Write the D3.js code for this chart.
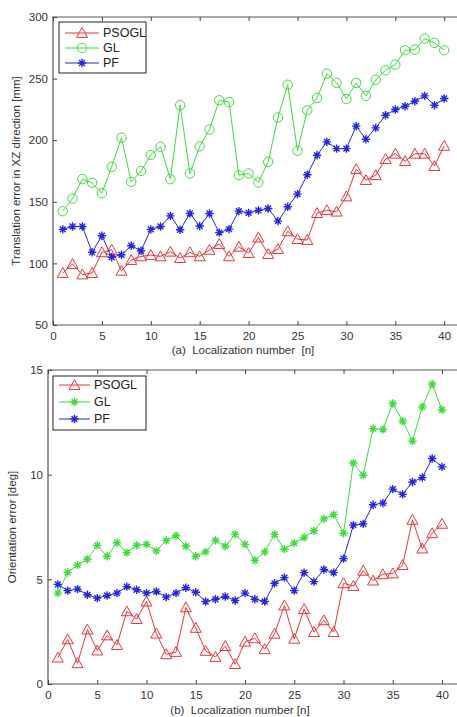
<!DOCTYPE html>
<html>
<head>
<meta charset="utf-8">
<script src="https://cdn.jsdelivr.net/npm/d3@7"></script>
<style>
  body { margin: 0; background: #fff; }
  svg { display: block; font-family: "Liberation Sans", Arial, sans-serif; }
  .tick text { fill: #333; font-size: 11.5px; }
  .lbl { fill: #333; font-size: 11.5px; }
</style>
</head>
<body>
<svg id="svg" width="457" height="717"></svg>
<script>
// localization index 1..40
const nums = d3.range(1, 41);

// (a) translation error [mm]
const transPSOGL = [92.2, 99.5, 91, 92.2, 109, 111, 94, 102.7, 105.7, 106.8,
  105.7, 109.5, 104.3, 109, 105.7, 111, 115.7, 105.7, 113.5, 108.4,
  121, 107.6, 111.6, 126, 119.7, 119, 140.8, 143.2, 142, 154.3,
  176.5, 167.6, 171.6, 184.6, 189, 183, 189, 189, 179, 195.4];
const transGL = [142.4, 152.7, 168.4, 165.4, 157, 178.4, 202, 166.2, 175, 188,
  194.6, 168.4, 228.4, 173, 195, 208.6, 232.4, 231, 171.6, 173,
  165.7, 182.4, 218.4, 245, 191.4, 224.3, 234.3, 254, 246.5, 233.5,
  246.5, 236, 249, 256.8, 261.4, 273, 273.5, 282.4, 279, 273];
const transPF = [127.6, 130, 130, 109, 122.4, 105, 107, 114.3, 110.3, 127.6,
  130, 138.6, 127.3, 140.5, 130.3, 140.5, 125, 127.8, 142.4, 141,
  143, 144.6, 134.3, 146, 156.2, 172, 187.8, 198.6, 193.2, 193.2,
  211.4, 200.8, 210, 220.3, 224.9, 227.6, 231.6, 236, 228.4, 233.8];

// (b) orientation error [deg]
const oriPSOGL = [1.26, 2.13, 0.99, 2.6, 1.6, 2.32, 1.86, 3.47, 3.1, 3.94,
  2.41, 1.42, 1.53, 3.66, 2.68, 1.58, 1.29, 1.81, 0.95, 2.02,
  2.18, 1.66, 2.4, 3.75, 2.16, 3.58, 2.48, 3.04, 2.48, 4.81,
  4.68, 5.41, 4.94, 5.24, 5.28, 5.68, 7.84, 6.47, 7.2, 7.65];
const oriGL = [4.34, 5.33, 5.68, 5.96, 6.62, 6.1, 6.75, 6.28, 6.62, 6.67,
  6.36, 6.86, 7.08, 6.58, 6.1, 6.31, 6.86, 6.58, 7.15, 6.67,
  5.91, 6.31, 7.15, 6.44, 6.73, 7.0, 7.32, 7.89, 8.1, 7.2,
  10.56, 9.97, 12.2, 12.16, 13.4, 12.56, 11.6, 13.24, 14.33, 13.1];
const oriPF = [4.76, 4.46, 4.53, 4.26, 4.1, 4.23, 4.34, 4.65, 4.5, 4.34,
  4.42, 4.15, 4.34, 4.6, 4.38, 3.94, 4.05, 4.18, 3.99, 4.34,
  4.05, 3.94, 4.81, 5.08, 4.46, 5.32, 4.89, 5.47, 5.32, 5.99,
  7.59, 7.65, 8.56, 8.64, 9.31, 9.06, 9.65, 9.86, 10.77, 10.37];

const xTicks = [0, 5, 10, 15, 20, 25, 30, 35, 40];
const transTicks = [50, 100, 150, 200, 250, 300];
const oriTicks = [0, 5, 10, 15];

const RED = "#e8353a", GREEN = "#3edb3e", BLUE = "#2626dc";

const svg = d3.select("#svg");

// marker shapes
function drawMarker(g, type, color, x, y, s) {
  if (type === "tri") {
    g.append("path")
      .attr("d", `M${x},${y - s}L${x + s},${y + s * 0.8}L${x - s},${y + s * 0.8}Z`)
      .attr("fill", "none").attr("stroke", color).attr("stroke-width", 1);
  } else if (type === "circ") {
    g.append("circle").attr("cx", x).attr("cy", y).attr("r", s)
      .attr("fill", "none").attr("stroke", color).attr("stroke-width", 1);
  } else {
    const d = s * 0.7;
    g.append("path")
      .attr("d", `M${x - s},${y}L${x + s},${y}M${x},${y - s}L${x},${y + s}` +
                 `M${x - d},${y - d}L${x + d},${y + d}M${x - d},${y + d}L${x + d},${y - d}`)
      .attr("stroke", color).attr("stroke-width", 1.4);
  }
}

function panel(cfg) {
  const x = d3.scaleLinear().domain([0, 42]).range([cfg.left, cfg.left + 42 * cfg.unit]);
  const y = d3.scaleLinear().domain(cfg.ydom).range([cfg.bottom, cfg.top]);
  const g = svg.append("g");

  // frame (left, top, bottom; right side falls outside the picture)
  g.append("path")
    .attr("d", `M${x(42)},${cfg.top}H${cfg.left}V${cfg.bottom}H${x(42)}`)
    .attr("fill", "none").attr("stroke", "#555").attr("stroke-width", 1.2);

  const xa = g.append("g").attr("transform", `translate(0,${cfg.bottom})`)
    .call(d3.axisBottom(x).tickValues(xTicks).tickSize(-4).tickPadding(7).tickFormat(d3.format("d")));
  const xt = g.append("g").attr("transform", `translate(0,${cfg.top})`)
    .call(d3.axisTop(x).tickValues(xTicks).tickSize(-4).tickFormat(""));
  const ya = g.append("g").attr("transform", `translate(${cfg.left},0)`)
    .call(d3.axisLeft(y).tickValues(cfg.yticks).tickSize(-4).tickPadding(5));
  [xa, xt, ya].forEach(a => {
    a.select(".domain").remove();
    a.selectAll(".tick line").attr("stroke", "#444");
  });

  const line = d3.line().x((d, i) => x(nums[i])).y(d => y(d));
  cfg.series.forEach(s => {
    g.append("path").datum(s.values).attr("d", line)
      .attr("fill", "none").attr("stroke", s.color).attr("stroke-width", 1);
    const mg = g.append("g");
    s.values.forEach((v, i) => drawMarker(mg, s.marker, s.color, x(nums[i]), y(v), s.size));
  });

  // legend
  const L = cfg.legend;
  const lg = g.append("g");
  lg.append("rect").attr("x", L.x).attr("y", L.y).attr("width", L.w).attr("height", L.h)
    .attr("fill", "#fff").attr("stroke", "#222").attr("stroke-width", 1);
  cfg.series.forEach((s, i) => {
    const yy = L.y + L.first + i * L.step;
    lg.append("line").attr("x1", L.x + 6).attr("x2", L.x + 6 + L.len)
      .attr("y1", yy).attr("y2", yy).attr("stroke", s.color).attr("stroke-width", 1);
    drawMarker(lg, s.marker, s.color, L.x + 6 + L.len / 2, yy, s.size);
    lg.append("text").attr("x", L.x + 10 + L.len).attr("y", yy + 4)
      .attr("font-size", 12.5).attr("fill", "#222").text(s.name);
  });

  g.append("text").attr("class", "lbl")
    .attr("transform", `translate(${cfg.ylabX},${(cfg.top + cfg.bottom) / 2}) rotate(-90)`)
    .attr("text-anchor", "middle").text(cfg.ylabel);
  g.append("text").attr("class", "lbl").attr("x", cfg.xlabX).attr("y", cfg.xlabY)
    .attr("font-size", 12)
    .attr("text-anchor", "middle").attr("xml:space", "preserve").text(cfg.xlabel);
}

panel({
  left: 53, unit: 9.78, top: 17, bottom: 325, ydom: [50, 300], yticks: transTicks,
  series: [
    { name: "PSOGL", values: transPSOGL, color: RED, marker: "tri", size: 5.5 },
    { name: "GL", values: transGL, color: GREEN, marker: "circ", size: 4.7 },
    { name: "PF", values: transPF, color: BLUE, marker: "star", size: 4.2 }
  ],
  legend: { x: 59, y: 22, w: 87, h: 51, first: 11, step: 15, len: 34 },
  ylabel: "Translation error in XZ direction [mm]", ylabX: 20,
  xlabel: "(a)  Localization number  [n]", xlabX: 243, xlabY: 354
});

panel({
  left: 48, unit: 9.85, top: 370, bottom: 684, ydom: [0, 15], yticks: oriTicks,
  series: [
    { name: "PSOGL", values: oriPSOGL, color: RED, marker: "tri", size: 5.5 },
    { name: "GL", values: oriGL, color: GREEN, marker: "star", size: 4.2 },
    { name: "PF", values: oriPF, color: BLUE, marker: "star", size: 4.2 }
  ],
  legend: { x: 53, y: 376, w: 93, h: 54, first: 9, step: 17, len: 31 },
  ylabel: "Orientation error [deg]", ylabX: 16,
  xlabel: "(b)  Localization number [n]", xlabX: 240, xlabY: 714
});
</script>
</body>
</html>
